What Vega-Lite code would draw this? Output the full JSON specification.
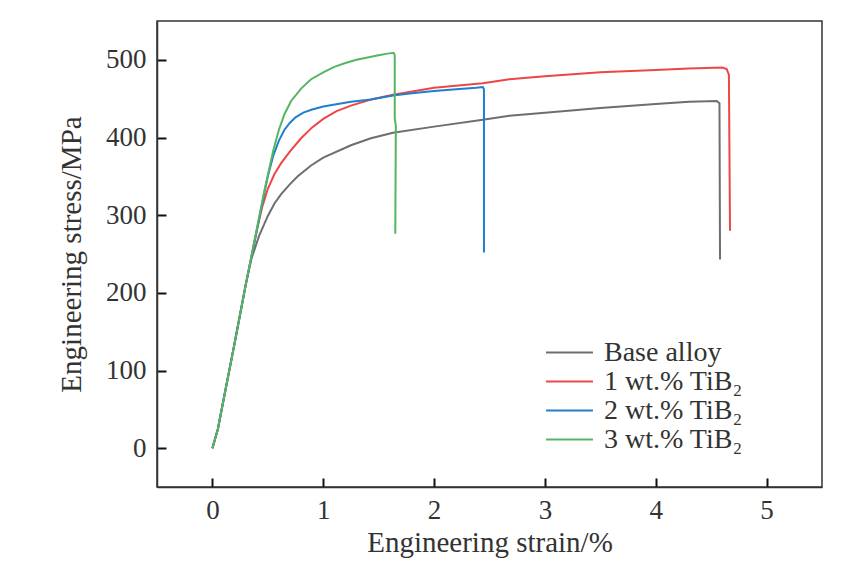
{
  "$schema": "https://vega.github.io/schema/vega-lite/v6.json",
  "width": 665,
  "height": 466,
  "autosize": {"type": "none"},
  "padding": {"left": 157, "top": 21, "right": 27, "bottom": 89},
  "background": "white",
  "config": {
    "font": "Liberation Serif",
    "view": {"stroke": "#333333", "strokeWidth": 1.5},
    "axis": {
      "grid": false,
      "labelFont": "Liberation Serif",
      "labelFontSize": 27,
      "labelColor": "#333333",
      "titleFont": "Liberation Serif",
      "titleFontSize": 29,
      "titleFontWeight": "normal",
      "titleColor": "#333333"
    }
  },
  "data": {
    "values": [
      {"alloy": "Base alloy", "strain": 0, "stress": 0},
      {"alloy": "Base alloy", "strain": 0.05, "stress": 25},
      {"alloy": "Base alloy", "strain": 0.1, "stress": 62},
      {"alloy": "Base alloy", "strain": 0.2, "stress": 135},
      {"alloy": "Base alloy", "strain": 0.3, "stress": 210},
      {"alloy": "Base alloy", "strain": 0.35, "stress": 243},
      {"alloy": "Base alloy", "strain": 0.42, "stress": 273},
      {"alloy": "Base alloy", "strain": 0.5, "stress": 299},
      {"alloy": "Base alloy", "strain": 0.56, "stress": 315},
      {"alloy": "Base alloy", "strain": 0.62, "stress": 327},
      {"alloy": "Base alloy", "strain": 0.7, "stress": 340},
      {"alloy": "Base alloy", "strain": 0.77, "stress": 350},
      {"alloy": "Base alloy", "strain": 0.89, "stress": 364},
      {"alloy": "Base alloy", "strain": 1.0, "stress": 374},
      {"alloy": "Base alloy", "strain": 1.25, "stress": 390},
      {"alloy": "Base alloy", "strain": 1.43, "stress": 399},
      {"alloy": "Base alloy", "strain": 1.63, "stress": 406},
      {"alloy": "Base alloy", "strain": 2.0, "stress": 414},
      {"alloy": "Base alloy", "strain": 2.44, "stress": 423},
      {"alloy": "Base alloy", "strain": 2.68, "stress": 428},
      {"alloy": "Base alloy", "strain": 3.0, "stress": 432},
      {"alloy": "Base alloy", "strain": 3.5, "stress": 438},
      {"alloy": "Base alloy", "strain": 4.0, "stress": 443},
      {"alloy": "Base alloy", "strain": 4.3, "stress": 446},
      {"alloy": "Base alloy", "strain": 4.55, "stress": 447},
      {"alloy": "Base alloy", "strain": 4.575, "stress": 444},
      {"alloy": "Base alloy", "strain": 4.58, "stress": 243},

      {"alloy": "1 wt.% TiB₂", "strain": 0, "stress": 0},
      {"alloy": "1 wt.% TiB₂", "strain": 0.05, "stress": 25},
      {"alloy": "1 wt.% TiB₂", "strain": 0.1, "stress": 62},
      {"alloy": "1 wt.% TiB₂", "strain": 0.2, "stress": 135},
      {"alloy": "1 wt.% TiB₂", "strain": 0.3, "stress": 210},
      {"alloy": "1 wt.% TiB₂", "strain": 0.4, "stress": 280},
      {"alloy": "1 wt.% TiB₂", "strain": 0.45, "stress": 311},
      {"alloy": "1 wt.% TiB₂", "strain": 0.5, "stress": 334},
      {"alloy": "1 wt.% TiB₂", "strain": 0.56, "stress": 353},
      {"alloy": "1 wt.% TiB₂", "strain": 0.62, "stress": 367},
      {"alloy": "1 wt.% TiB₂", "strain": 0.7, "stress": 382},
      {"alloy": "1 wt.% TiB₂", "strain": 0.8, "stress": 399},
      {"alloy": "1 wt.% TiB₂", "strain": 0.9, "stress": 413},
      {"alloy": "1 wt.% TiB₂", "strain": 1.0, "stress": 424},
      {"alloy": "1 wt.% TiB₂", "strain": 1.12, "stress": 434},
      {"alloy": "1 wt.% TiB₂", "strain": 1.25, "stress": 441},
      {"alloy": "1 wt.% TiB₂", "strain": 1.43, "stress": 449},
      {"alloy": "1 wt.% TiB₂", "strain": 1.63, "stress": 455},
      {"alloy": "1 wt.% TiB₂", "strain": 2.0, "stress": 464},
      {"alloy": "1 wt.% TiB₂", "strain": 2.44, "stress": 470},
      {"alloy": "1 wt.% TiB₂", "strain": 2.68, "stress": 475},
      {"alloy": "1 wt.% TiB₂", "strain": 3.0, "stress": 479},
      {"alloy": "1 wt.% TiB₂", "strain": 3.5, "stress": 484},
      {"alloy": "1 wt.% TiB₂", "strain": 4.0, "stress": 487},
      {"alloy": "1 wt.% TiB₂", "strain": 4.3, "stress": 489},
      {"alloy": "1 wt.% TiB₂", "strain": 4.6, "stress": 490},
      {"alloy": "1 wt.% TiB₂", "strain": 4.64, "stress": 488},
      {"alloy": "1 wt.% TiB₂", "strain": 4.66, "stress": 481},
      {"alloy": "1 wt.% TiB₂", "strain": 4.67, "stress": 280},

      {"alloy": "2 wt.% TiB₂", "strain": 0, "stress": 0},
      {"alloy": "2 wt.% TiB₂", "strain": 0.05, "stress": 25},
      {"alloy": "2 wt.% TiB₂", "strain": 0.1, "stress": 62},
      {"alloy": "2 wt.% TiB₂", "strain": 0.2, "stress": 135},
      {"alloy": "2 wt.% TiB₂", "strain": 0.3, "stress": 210},
      {"alloy": "2 wt.% TiB₂", "strain": 0.4, "stress": 280},
      {"alloy": "2 wt.% TiB₂", "strain": 0.45, "stress": 316},
      {"alloy": "2 wt.% TiB₂", "strain": 0.5, "stress": 350},
      {"alloy": "2 wt.% TiB₂", "strain": 0.55, "stress": 377},
      {"alloy": "2 wt.% TiB₂", "strain": 0.6, "stress": 396},
      {"alloy": "2 wt.% TiB₂", "strain": 0.65, "stress": 410},
      {"alloy": "2 wt.% TiB₂", "strain": 0.7, "stress": 419},
      {"alloy": "2 wt.% TiB₂", "strain": 0.75, "stress": 426},
      {"alloy": "2 wt.% TiB₂", "strain": 0.82, "stress": 432},
      {"alloy": "2 wt.% TiB₂", "strain": 0.9, "stress": 436},
      {"alloy": "2 wt.% TiB₂", "strain": 1.0, "stress": 440},
      {"alloy": "2 wt.% TiB₂", "strain": 1.25, "stress": 446},
      {"alloy": "2 wt.% TiB₂", "strain": 1.43, "stress": 449},
      {"alloy": "2 wt.% TiB₂", "strain": 1.63, "stress": 454},
      {"alloy": "2 wt.% TiB₂", "strain": 1.8, "stress": 457},
      {"alloy": "2 wt.% TiB₂", "strain": 2.0, "stress": 460},
      {"alloy": "2 wt.% TiB₂", "strain": 2.2, "stress": 462},
      {"alloy": "2 wt.% TiB₂", "strain": 2.38, "stress": 464},
      {"alloy": "2 wt.% TiB₂", "strain": 2.44, "stress": 465},
      {"alloy": "2 wt.% TiB₂", "strain": 2.45, "stress": 462},
      {"alloy": "2 wt.% TiB₂", "strain": 2.45, "stress": 252},

      {"alloy": "3 wt.% TiB₂", "strain": 0, "stress": 0},
      {"alloy": "3 wt.% TiB₂", "strain": 0.05, "stress": 25},
      {"alloy": "3 wt.% TiB₂", "strain": 0.1, "stress": 62},
      {"alloy": "3 wt.% TiB₂", "strain": 0.2, "stress": 135},
      {"alloy": "3 wt.% TiB₂", "strain": 0.3, "stress": 210},
      {"alloy": "3 wt.% TiB₂", "strain": 0.4, "stress": 282},
      {"alloy": "3 wt.% TiB₂", "strain": 0.47, "stress": 332},
      {"alloy": "3 wt.% TiB₂", "strain": 0.55, "stress": 384},
      {"alloy": "3 wt.% TiB₂", "strain": 0.6, "stress": 410},
      {"alloy": "3 wt.% TiB₂", "strain": 0.65, "stress": 430},
      {"alloy": "3 wt.% TiB₂", "strain": 0.71, "stress": 447},
      {"alloy": "3 wt.% TiB₂", "strain": 0.8, "stress": 463},
      {"alloy": "3 wt.% TiB₂", "strain": 0.89, "stress": 475},
      {"alloy": "3 wt.% TiB₂", "strain": 1.0, "stress": 484},
      {"alloy": "3 wt.% TiB₂", "strain": 1.1, "stress": 491},
      {"alloy": "3 wt.% TiB₂", "strain": 1.2, "stress": 496},
      {"alloy": "3 wt.% TiB₂", "strain": 1.3, "stress": 500},
      {"alloy": "3 wt.% TiB₂", "strain": 1.4, "stress": 503},
      {"alloy": "3 wt.% TiB₂", "strain": 1.5, "stress": 506},
      {"alloy": "3 wt.% TiB₂", "strain": 1.58, "stress": 508},
      {"alloy": "3 wt.% TiB₂", "strain": 1.635, "stress": 509},
      {"alloy": "3 wt.% TiB₂", "strain": 1.645, "stress": 506},
      {"alloy": "3 wt.% TiB₂", "strain": 1.645, "stress": 425},
      {"alloy": "3 wt.% TiB₂", "strain": 1.655, "stress": 415},
      {"alloy": "3 wt.% TiB₂", "strain": 1.65, "stress": 276}
    ]
  },
  "mark": {"type": "line", "strokeWidth": 2},
  "encoding": {
    "x": {
      "field": "strain",
      "type": "quantitative",
      "title": "Engineering strain/%",
      "scale": {"domain": [-0.5, 5.5], "nice": false, "zero": false},
      "axis": {
        "values": [0, 1, 2, 3, 4, 5],
        "domain": true,
        "domainColor": "#333333",
        "domainWidth": 1.5,
        "ticks": true,
        "tickSize": -9,
        "tickWidth": 2,
        "tickColor": "#111111",
        "labelPadding": 19,
        "titlePadding": 5
      }
    },
    "y": {
      "field": "stress",
      "type": "quantitative",
      "title": "Engineering stress/MPa",
      "scale": {"domain": [-50, 550], "nice": false, "zero": false},
      "axis": {
        "values": [0, 100, 200, 300, 400, 500],
        "domain": true,
        "domainColor": "#333333",
        "domainWidth": 1.5,
        "ticks": true,
        "tickSize": -9,
        "tickWidth": 2,
        "tickColor": "#111111",
        "labelPadding": 20,
        "titlePadding": 19
      }
    },
    "color": {
      "field": "alloy",
      "type": "nominal",
      "title": null,
      "scale": {
        "domain": ["Base alloy", "1 wt.% TiB₂", "2 wt.% TiB₂", "3 wt.% TiB₂"],
        "range": ["#6e6e6e", "#ee4646", "#1f7fcc", "#55b560"]
      },
      "legend": {
        "orient": "none",
        "legendX": 388,
        "legendY": 317,
        "padding": 0,
        "symbolType": "stroke",
        "symbolSize": 2200,
        "symbolStrokeWidth": 2,
        "clipHeight": 29,
        "labelFont": "Liberation Serif",
        "labelFontSize": 28,
        "labelColor": "#333333",
        "labelOffset": 10,
        "rowPadding": 0,
        "labelLimit": 300
      }
    },
    "order": {"value": null}
  }
}
